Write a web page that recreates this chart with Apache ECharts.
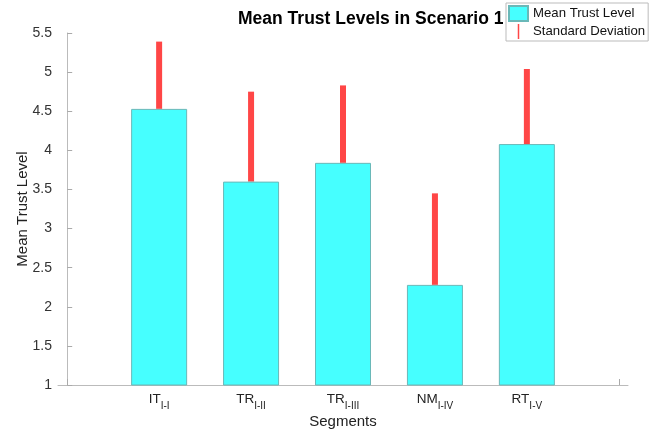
<!DOCTYPE html>
<html>
<head>
<meta charset="utf-8">
<script src="https://cdn.jsdelivr.net/npm/echarts@6/dist/echarts.min.js"></script>
<style>
  html, body { margin: 0; padding: 0; background: #fff; }
  #chart { width: 670px; height: 431px; }
</style>
</head>
<body>
<div id="chart"></div>
<script>
// segment labels: main part + subscript
const segMain = ['IT', 'TR', 'TR', 'NM', 'RT'];
const segSub = ['I-I', 'I-II', 'I-III', 'I-IV', 'I-V'];
const segPos = [1, 2, 3, 4, 5];
const meanTrust = [4.53, 3.60, 3.84, 2.28, 4.08];
const stdDev = [0.86, 1.15, 0.99, 1.17, 0.96];
const yTicks = [1, 1.5, 2, 2.5, 3, 3.5, 4, 4.5, 5, 5.5];

const chart = echarts.init(document.getElementById('chart'));

const barData = segPos.map((x, i) => [x, meanTrust[i]]);
const errData = segPos.map((x, i) => [x, meanTrust[i], meanTrust[i] + stdDev[i]]);

const option = {
  animation: false,
  textStyle: { fontFamily: 'Liberation Sans, Arial, sans-serif' },
  title: {
    text: 'Mean Trust Levels in Scenario 1',
    left: 233,
    top: 5,
    textStyle: {
      fontFamily: 'Liberation Sans, sans-serif',
      fontSize: 17.5,
      fontWeight: 'bold',
      color: '#000'
    }
  },
  legend: {
    orient: 'vertical',
    left: 506,
    top: 3,
    padding: [2, 3, 2, 2],
    itemGap: 2,
    itemWidth: 19,
    itemHeight: 15,
    backgroundColor: '#fff',
    borderColor: '#bbb',
    borderWidth: 1,
    textStyle: { fontSize: 13.2, color: '#111' },
    data: [
      { name: 'Mean Trust Level', icon: 'rect' },
      { name: 'Standard Deviation', icon: 'path://M0,0 h1 v10 h-1 z' }
    ]
  },
  grid: { left: 58, right: 42, top: 33, bottom: 46, outerBoundsMode: 'none' },
  xAxis: {
    type: 'value',
    min: -0.1,
    max: 6.1,
    name: 'Segments',
    nameLocation: 'middle',
    nameGap: 29,
    nameMoveOverlap: false,
    nameTextStyle: { fontSize: 15, color: '#222' },
    axisLine: { lineStyle: { color: '#bbb' } },
    axisTick: { inside: true, length: 6, customValues: [0, 6], lineStyle: { color: '#aaa' } },
    splitLine: { show: false },
    axisLabel: {
      customValues: segPos,
      margin: 7,
      color: '#222',
      formatter: v => {
        const i = segPos.indexOf(v);
        return '{a|' + segMain[i] + '}{s|' + segSub[i] + '}';
      },
      rich: {
        a: { fontSize: 13.5, lineHeight: 15, verticalAlign: 'top', color: '#222' },
        s: { fontSize: 10, lineHeight: 19, verticalAlign: 'bottom', color: '#222' }
      }
    }
  },
  yAxis: {
    type: 'value',
    min: 1,
    max: 5.5,
    interval: 0.5,
    name: 'Mean Trust Level',
    nameLocation: 'middle',
    nameGap: 28,
    nameMoveOverlap: false,
    nameTextStyle: { fontSize: 15, color: '#222' },
    axisLine: { show: true, lineStyle: { color: '#bbb' } },
    axisTick: { show: true, inside: true, length: 5, lineStyle: { color: '#aaa' } },
    splitLine: { show: false },
    axisLabel: {
      margin: 6,
      fontSize: 14,
      color: '#333',
      customValues: yTicks,
      formatter: v => String(v)
    }
  },
  series: [
    {
      name: 'Standard Deviation',
      type: 'custom',
      z: 1,
      itemStyle: { color: '#ff4646' },
      data: errData,
      encode: { x: 0, y: [1, 2] },
      renderItem: (params, api) => {
        const lo = api.coord([api.value(0), api.value(1)]);
        const hi = api.coord([api.value(0), api.value(2)]);
        return {
          type: 'rect',
          shape: { x: lo[0] - 3, y: hi[1], width: 6, height: lo[1] - hi[1] },
          style: { fill: '#ff4646' }
        };
      }
    },
    {
      name: 'Mean Trust Level',
      type: 'bar',
      z: 3,
      barWidth: 56,
      data: barData,
      itemStyle: { color: '#46ffff', borderColor: '#6ab8b8', borderWidth: 1 }
    }
  ]
};

chart.setOption(option);
</script>
</body>
</html>
